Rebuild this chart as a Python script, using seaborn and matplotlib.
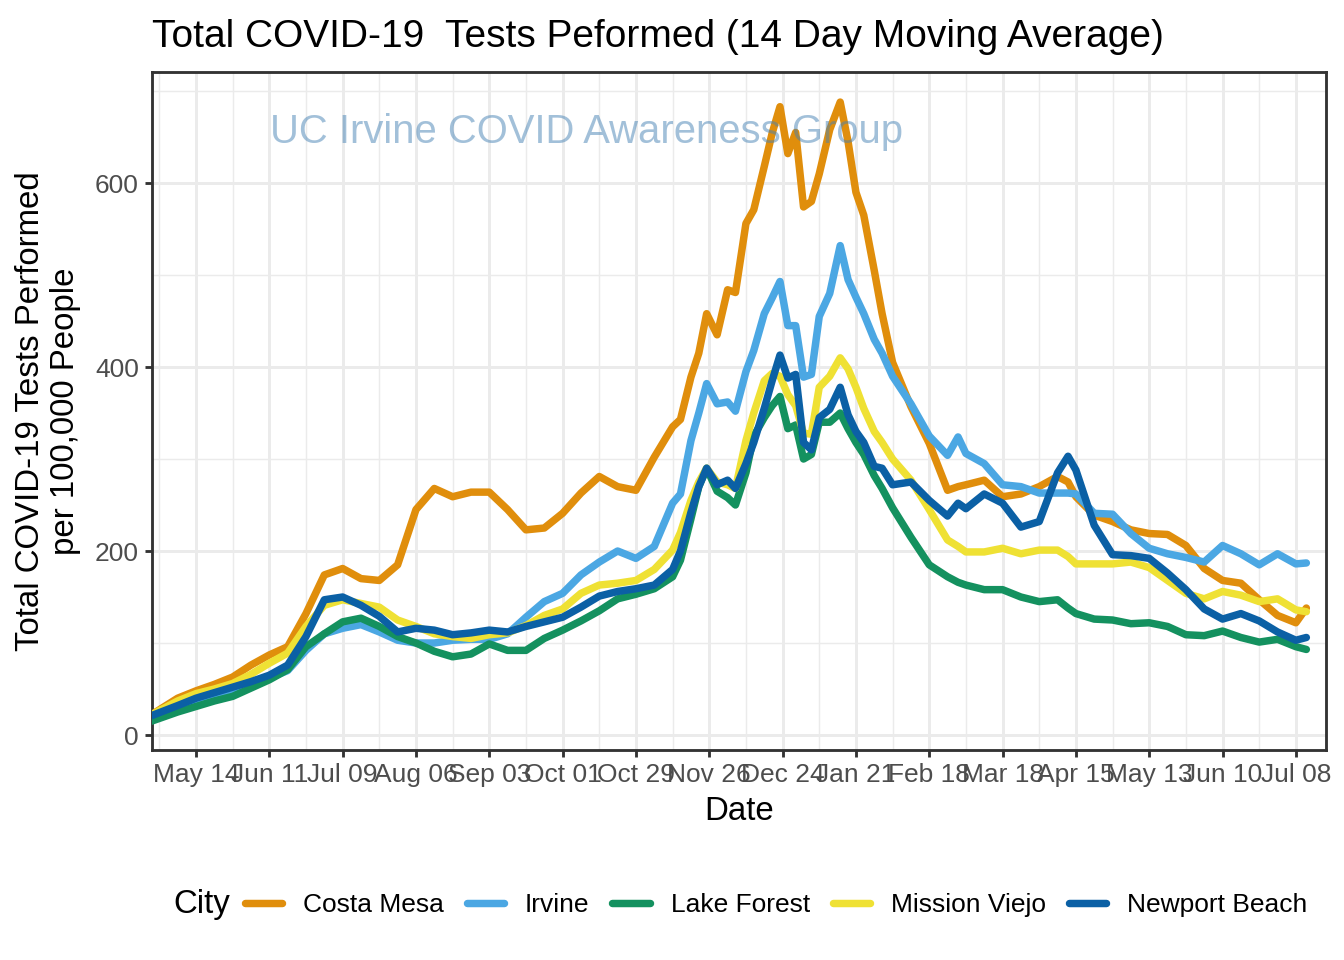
import matplotlib
matplotlib.use("Agg")
import matplotlib.pyplot as plt
import matplotlib.dates as mdates
import seaborn as sns
import pandas as pd

# dates of the readings (14 day moving average)
dates = [
    "2020-04-27", "2020-05-07", "2020-05-14", "2020-05-21", "2020-05-28", "2020-06-04",
    "2020-06-11", "2020-06-18", "2020-06-25", "2020-07-02", "2020-07-09", "2020-07-16",
    "2020-07-23", "2020-07-30", "2020-08-06", "2020-08-13", "2020-08-20", "2020-08-27",
    "2020-09-03", "2020-09-10", "2020-09-17", "2020-09-24", "2020-10-01", "2020-10-08",
    "2020-10-15", "2020-10-22", "2020-10-29", "2020-11-05", "2020-11-12",
    "2020-11-15", "2020-11-19", "2020-11-22", "2020-11-25", "2020-11-29", "2020-12-03",
    "2020-12-06", "2020-12-10", "2020-12-13", "2020-12-17", "2020-12-20", "2020-12-23",
    "2020-12-26", "2020-12-29", "2021-01-01", "2021-01-04", "2021-01-07", "2021-01-11",
    "2021-01-15", "2021-01-18", "2021-01-21", "2021-01-24", "2021-01-28", "2021-01-31",
    "2021-02-04",
    "2021-02-11", "2021-02-18", "2021-02-25", "2021-03-01", "2021-03-04", "2021-03-11",
    "2021-03-18", "2021-03-25", "2021-04-01", "2021-04-08", "2021-04-12", "2021-04-15",
    "2021-04-22", "2021-04-29", "2021-05-06", "2021-05-13", "2021-05-20", "2021-05-27",
    "2021-06-03", "2021-06-10", "2021-06-17", "2021-06-24", "2021-07-01", "2021-07-08",
    "2021-07-12",
]

costa_mesa = [
    22, 40, 48, 55, 63, 76, 87, 96, 132, 174, 181, 170, 168, 185, 245, 268, 259, 264,
    264, 245, 223, 225, 241, 263, 281, 270, 266, 302, 335,
    343, 389, 415, 458, 435, 484, 481, 556, 571, 618, 654, 683, 632, 655, 574, 580,
    610, 658, 688, 645, 590, 565, 505, 458, 405,
    357, 317, 266, 270, 272, 277, 259, 262, 270, 281, 275, 259, 239, 232, 223, 219,
    218, 206, 181, 168, 165, 147, 130, 122, 138,
]
irvine = [
    16, 30, 38, 44, 49, 57, 62, 70, 92, 110, 116, 120, 112, 103, 100, 100, 103, 104,
    104, 110, 128, 145, 154, 174, 188, 200, 192, 205, 252,
    262, 320, 350, 382, 360, 362, 352, 395, 418, 458, 475, 493, 445, 445, 389, 392,
    455, 480, 532, 495, 476, 458, 430, 415, 390,
    360, 325, 304, 324, 306, 295, 272, 270, 263, 263, 263, 262, 241, 240, 219, 203,
    197, 193, 188, 206, 197, 185, 197, 186, 187,
]
lake_forest = [
    15, 25, 31, 37, 42, 51, 60, 71, 96, 110, 123, 127, 118, 107, 100, 91, 85, 88,
    99, 92, 92, 105, 114, 124, 135, 148, 153, 159, 172,
    190, 235, 270, 290, 265, 258, 250, 285, 325, 345, 358, 368, 333, 337, 300, 305,
    340, 340, 350, 333, 318, 305, 282, 268, 247,
    215, 185, 172, 166, 163, 158, 158, 150, 145, 147, 138, 132, 126, 125, 121, 122,
    118, 109, 108, 113, 106, 101, 104, 96, 93,
]
mission_viejo = [
    22, 37, 45, 50, 56, 66, 78, 89, 118, 141, 147, 143, 139, 125, 118, 110, 107, 105,
    109, 111, 119, 130, 137, 154, 163, 165, 168, 180, 201,
    220, 255, 275, 290, 275, 272, 268, 320, 350, 385, 393, 390, 370, 358, 328, 327,
    378, 390, 410, 398, 378, 355, 330, 318, 300,
    277, 245, 212, 205, 199, 199, 203, 197, 201, 201, 194, 186, 186, 186, 188, 182,
    168, 154, 148, 156, 152, 145, 148, 136, 134,
]
newport_beach = [
    21, 32, 40, 46, 52, 58, 65, 76, 107, 147, 150, 141, 129, 112, 116, 114, 109, 111,
    114, 112, 118, 123, 128, 139, 151, 156, 159, 163, 180,
    200, 242, 270, 290, 272, 277, 268, 295, 318, 355, 385, 413, 388, 392, 318, 310,
    345, 354, 378, 348, 330, 318, 292, 290, 272,
    275, 255, 238, 252, 246, 262, 252, 226, 232, 285, 303, 288, 228, 196, 195, 192,
    176, 158, 137, 126, 132, 124, 112, 103, 106,
]

cities = ["Costa Mesa", "Irvine", "Lake Forest", "Mission Viejo", "Newport Beach"]
colors = ["#E08E0C", "#4BA7E3", "#14915F", "#EFE134", "#0B60A5"]

df = pd.DataFrame({
    "Date": pd.to_datetime(dates),
    "Costa Mesa": costa_mesa,
    "Irvine": irvine,
    "Lake Forest": lake_forest,
    "Mission Viejo": mission_viejo,
    "Newport Beach": newport_beach,
}).melt(id_vars="Date", var_name="City", value_name="Tests")

sns.set_style("whitegrid", {"grid.color": "#EBEBEB", "axes.edgecolor": "#333333",
                            "text.color": "black"})
plt.rcParams["font.family"] = ["Liberation Sans", "DejaVu Sans"]

fig, ax = plt.subplots(figsize=(7, 5), dpi=192)
fig.subplots_adjust(left=0.1131, right=0.9866, top=0.925, bottom=0.21875)

sns.lineplot(data=df, x="Date", y="Tests", hue="City", hue_order=cities,
             palette=dict(zip(cities, colors)), estimator=None, linewidth=2.8,
             ax=ax, zorder=3)
for ln in ax.lines:
    ln.set_solid_joinstyle("round")

# axes, ticks and grid like theme_bw
major = pd.date_range("2020-05-14", "2021-07-08", freq="28D")
minor = pd.date_range("2020-04-30", "2021-07-20", freq="28D")
ax.set_xticks(major)
ax.set_xticks(minor, minor=True)
ax.xaxis.set_major_formatter(mdates.DateFormatter("%b %d"))
ax.set_yticks([0, 200, 400, 600])
ax.set_yticks([100, 300, 500, 700], minor=True)
ax.set_xlim(pd.Timestamp("2020-04-27 05:00"), pd.Timestamp("2021-07-19 12:00"))
ax.set_ylim(-16.3, 720.7)
ax.grid(which="major", color="#EBEBEB", linewidth=1.1)
ax.grid(which="minor", color="#EBEBEB", linewidth=0.55)
ax.tick_params(which="major", length=2.75, width=1.07, color="#333333", pad=2.2,
               labelsize=9.9, labelcolor="#4D4D4D")
ax.tick_params(which="minor", length=0)
ax.tick_params(axis="both", which="both", bottom=True, left=True)
for sp in ax.spines.values():
    sp.set_color("#333333")
    sp.set_linewidth(1.07)
ax.set_xlabel("")
ax.set_ylabel("")

ax.text(pd.Timestamp("2020-10-10"), 655, "UC Irvine COVID Awareness Group",
        fontsize=15, color="steelblue", alpha=0.5, ha="center", va="center", zorder=5)

fig.text(152 / 1344, 1 - 47 / 960, "Total COVID-19  Tests Peformed (14 Day Moving Average)",
         fontsize=14.6, ha="left", va="baseline", color="black")
fig.text(48 / 1344, 1 - 411 / 960, "Total COVID-19 Tests Performed\nper 100,000 People",
         fontsize=12.4, rotation=90, ha="center", va="center", multialignment="center",
         color="black")
fig.text(739 / 1344, 1 - 812 / 960, "Date", fontsize=12.4, ha="center", va="center",
         color="black")

handles, labels = ax.get_legend_handles_labels()
ax.get_legend().remove()
leg = fig.legend(handles, labels, loc="center", bbox_to_anchor=(776 / 1344, 1 - 905 / 960),
                 ncol=5, frameon=False, fontsize=9.9, handlelength=1.42,
                 handletextpad=0.79, columnspacing=0.86, borderpad=0)
for t in leg.get_texts():
    t.set_color("black")
fig.text(173 / 1344, 1 - 905 / 960, "City", fontsize=12.4, ha="left", va="center",
         color="black")

fig.savefig("out.png", dpi=192)
